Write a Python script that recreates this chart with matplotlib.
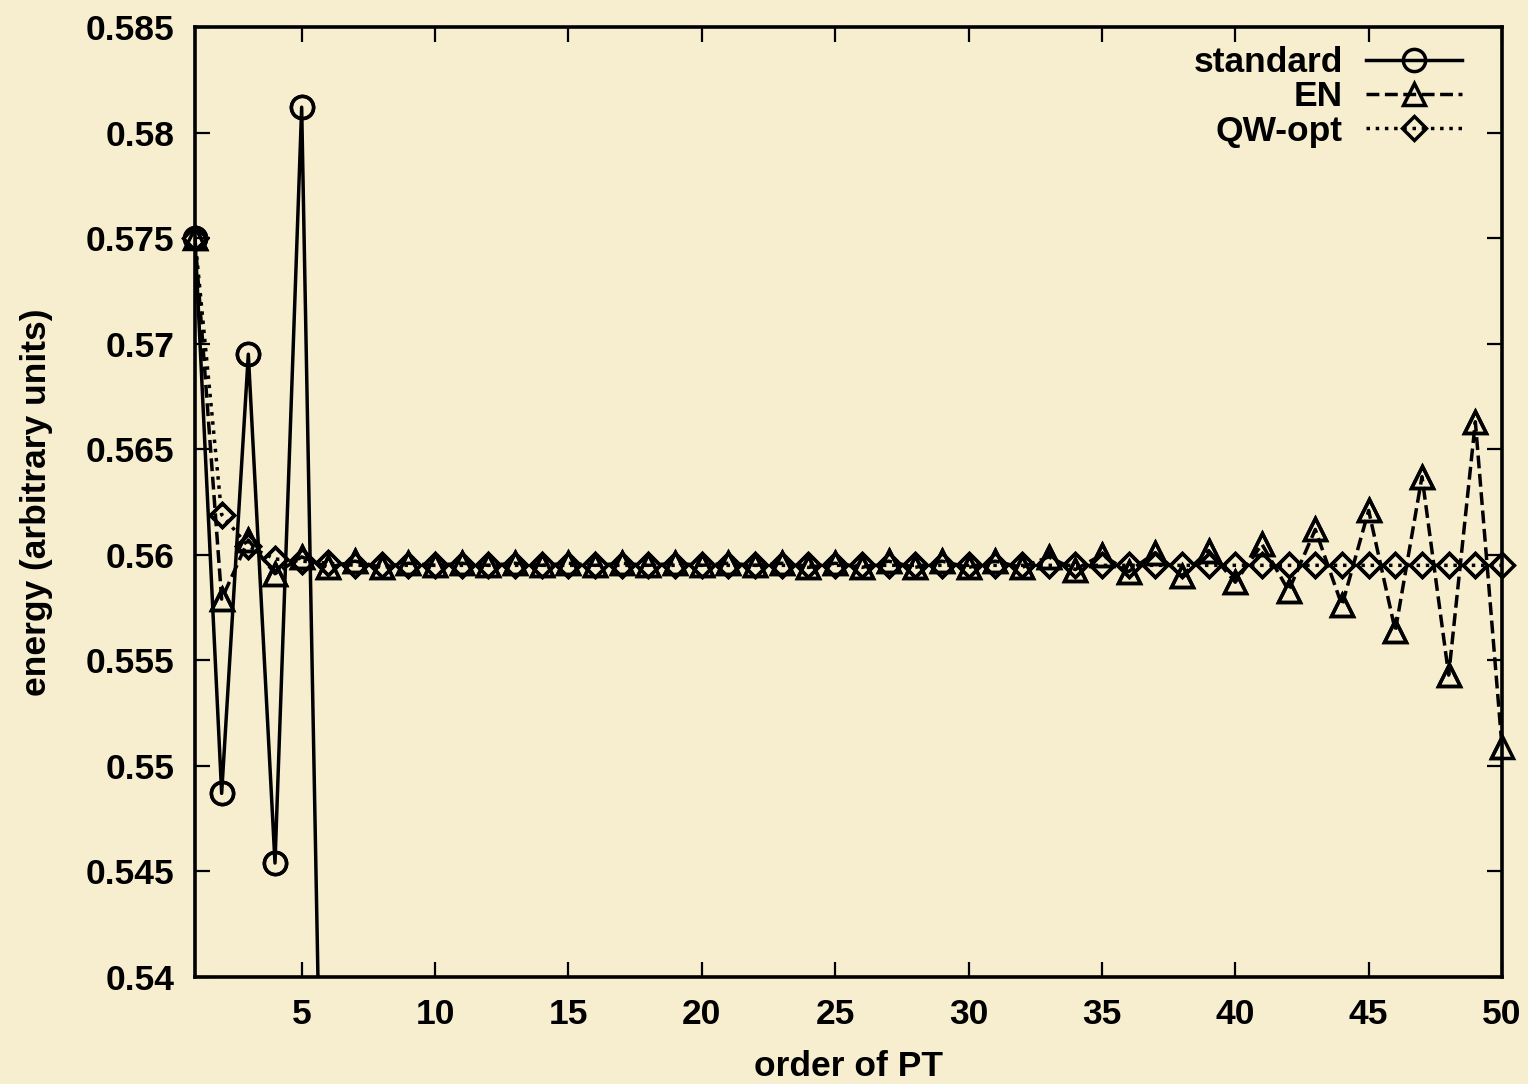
import matplotlib.pyplot as plt
import numpy as np

# perturbation-theory order
order = np.arange(1, 51)

# standard Rayleigh-Schroedinger series (diverges after a few orders)
standard_order = [1, 2, 3, 4, 5, 6]
standard = [0.5750, 0.5487, 0.5695, 0.5454, 0.5812, 0.5137]

# Epstein-Nesbet partitioning
en = [0.5750, 0.5579, 0.5607, 0.5591, 0.5599, 0.5594, 0.5597, 0.5594, 0.5596, 0.5595,
      0.5596, 0.5595, 0.5596, 0.5595, 0.5596, 0.5595, 0.5596, 0.5595, 0.5596, 0.5595,
      0.5596, 0.5595, 0.5596, 0.5594, 0.5596, 0.5594, 0.5597, 0.5594, 0.5597, 0.5594,
      0.5597, 0.5594, 0.5599, 0.5593, 0.5600, 0.5592, 0.5601, 0.5590, 0.5602, 0.5587,
      0.5605, 0.5583, 0.5612, 0.5576, 0.5621, 0.5564, 0.5637, 0.5543, 0.5663, 0.5509]

# optimized partitioning
qw_opt = [0.5750, 0.5619, 0.5604, 0.5598, 0.5597, 0.5596] + [0.5595] * 44

bg = '#F7EED0'
plt.rcParams['font.family'] = ['Liberation Sans', 'DejaVu Sans']
plt.rcParams['font.weight'] = 'bold'
plt.rcParams['font.size'] = 25.5

fig = plt.figure(figsize=(15.28, 10.84), dpi=100, facecolor=bg)
ax = fig.add_axes([0.1276, 0.0987, 0.8554, 0.8764], facecolor=bg)

lw = 2.5
mew = 2.5
series = [
    (standard_order, standard, '-', 'o', 16, 'standard'),
    (order, en, '--', '^', 16, 'EN'),
    (order, qw_opt, ':', 'D', 12, 'QW-opt'),
]
for xs, ys, ls, mk, ms, lab in series:
    xs = np.asarray(xs)
    ys = np.asarray(ys)
    ax.plot(xs, ys, color='black', ls=ls, lw=lw, marker=mk, ms=ms,
            mfc='none', mec='black', mew=mew, label=lab)
    # points sitting on the frame are drawn in full
    keep = (ys >= 0.54) & (ys <= 0.585)
    ax.plot(xs[keep], ys[keep], ls='none', marker=mk, ms=ms,
            mfc='none', mec='black', mew=mew, clip_on=False)

ax.set_xlim(1, 50)
ax.set_ylim(0.54, 0.585)
ax.set_xticks(np.arange(5, 51, 5))
ax.set_yticks(np.arange(0.54, 0.5851, 0.005))
ax.set_yticklabels(['0.54', '0.545', '0.55', '0.555', '0.56', '0.565',
                    '0.57', '0.575', '0.58', '0.585'])
ax.tick_params(direction='in', length=11, width=1.6, pad=15,
               top=True, right=True, labelsize=25.5)
for s in ax.spines.values():
    s.set_linewidth(2.6)

ax.set_xlabel('order of PT', fontsize=25.5, fontweight='bold', labelpad=14)
ax.set_ylabel('energy (arbitrary units)', fontsize=25.5, fontweight='bold', labelpad=23)

ax.legend(loc='upper right', bbox_to_anchor=(0.969, 0.98), frameon=False,
          markerfirst=False, handlelength=2.7, handletextpad=0.65,
          labelspacing=0.04, borderaxespad=0, borderpad=0, fontsize=25.5)

fig.savefig('out.png', dpi=100, facecolor=bg)
